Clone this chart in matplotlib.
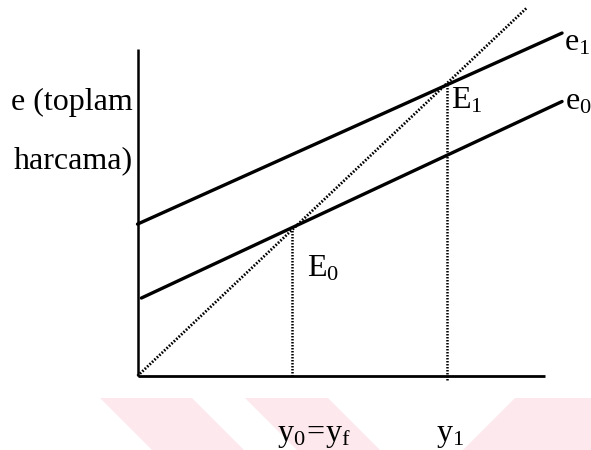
import numpy as np
import matplotlib
matplotlib.use("Agg")
from matplotlib import pyplot as plt
from matplotlib.patches import Polygon

plt.rcParams["font.family"] = "Liberation Serif"
plt.rcParams["mathtext.fontset"] = "custom"
plt.rcParams["mathtext.rm"] = "Liberation Serif"

# model values (income y, spending e)
y0 = 4.0
y1 = 8.0
line45_x = [0, 10.05]
line45_e = [0, 10.05]
e1_x = [0, 10.97]
e1_e = [4.15, 9.37]
e0_x = [0.1, 10.97]
e0_e = [2.13, 7.5]
xaxis_end = 10.53
yaxis_end = 8.93

fig = plt.figure(figsize=(5.91, 4.5), dpi=100)
ax = fig.add_axes([0, 0, 1, 1])
ax.set_xlim(-3.553, 11.718)
ax.set_ylim(-2.022, 10.273)
ax.axis("off")

# faint watermark bands at the bottom
bands = [
    [(100, 398), (192, 398), (244, 450), (152, 450)],
    [(245, 398), (328, 398), (380, 450), (297, 450)],
    [(515, 398), (591, 398), (591, 450), (463, 450)],
]
for b in bands:
    pts = [(x / 591, 1 - y / 450) for x, y in b]
    ax.add_patch(Polygon(pts, closed=True, transform=fig.transFigure,
                         facecolor="#fde9ed", edgecolor="none", zorder=0))

dots = (0, (0.6, 0.6))

# axes
ax.plot([0, xaxis_end], [0, 0], color="black", lw=2.0, solid_capstyle="butt")
ax.plot([0, 0], [0, yaxis_end], color="black", lw=1.8, solid_capstyle="butt")

# 45 degree line
ax.plot(line45_x, line45_e, color="black", lw=2.0, linestyle=dots)

# spending lines
ax.plot(e1_x, e1_e, color="black", lw=2.4, solid_capstyle="round")
ax.plot(e0_x, e0_e, color="black", lw=2.4, solid_capstyle="round")

# vertical guides
ax.plot([y0, y0], [0, y0], color="black", lw=1.8, linestyle=dots)
ax.plot([y1, y1], [-0.1, y1], color="black", lw=1.8, linestyle=dots)

fs = 23
ax.text(-0.12, 7.28, "e (toplam", fontsize=fs, ha="right", va="baseline", zorder=3)
ax.text(-0.12, 5.68, "harcama)", fontsize=fs, ha="right", va="baseline", zorder=3)
ax.text(8.1, 7.32, r"$\mathrm{E_1}$", fontsize=fs, va="baseline", zorder=3)
ax.text(4.38, 2.73, r"$\mathrm{E_0}$", fontsize=fs, va="baseline", zorder=3)
ax.text(11.02, 8.9, r"$\mathrm{e_1}$", fontsize=fs, va="baseline", zorder=3)
ax.text(11.04, 7.28, r"$\mathrm{e_0}$", fontsize=fs, va="baseline", zorder=3)
ax.text(3.6, -1.78, r"$\mathrm{y_0\!=\!y_f}$", fontsize=fs, va="baseline", zorder=3)
ax.text(7.72, -1.78, r"$\mathrm{y_1}$", fontsize=fs, va="baseline", zorder=3)

fig.savefig("out.png", dpi=100)
